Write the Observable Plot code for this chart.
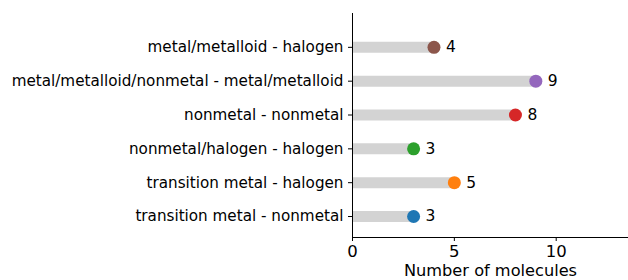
<!DOCTYPE html>
<html><head><meta charset="utf-8">
<script src="https://cdn.jsdelivr.net/npm/d3@7"></script>
<script src="https://cdn.jsdelivr.net/npm/@observablehq/plot@0.6"></script>
<style>body{margin:0;background:#fff;} svg{display:block;}</style>
</head><body><div id="chart"></div>
<script>
const categories = [
  "transition metal - nonmetal",
  "transition metal - halogen",
  "nonmetal/halogen - halogen",
  "nonmetal - nonmetal",
  "metal/metalloid/nonmetal - metal/metalloid",
  "metal/metalloid - halogen"
];
const counts = [3, 5, 3, 8, 9, 4];
const colors = ["#1f77b4", "#ff7f0e", "#2ca02c", "#d62728", "#9467bd", "#8c564b"];
const xTicks = [0, 5, 10];
const xDomain = [0, 13.55];
const yDomain = [-0.62, 6.0];

const data = categories.map((c, i) => ({cat: c, idx: i, n: counts[i], color: colors[i]}));

const chart = Plot.plot({
  width: 628, height: 280,
  marginLeft: 352, marginRight: 0, marginTop: 13, marginBottom: 43,
  style: {fontFamily: "DejaVu Sans", background: "#fff", color: "#000"},
  x: {domain: xDomain, ticks: xTicks},
  y: {domain: yDomain},
  marks: [
    Plot.ruleY(data, {y: "idx", x1: 0, x2: "n", stroke: "#d3d3d3", strokeWidth: 11}),
    Plot.dot(data, {x: "n", y: "idx", r: 6.5, fill: "color", stroke: "none"}),
    Plot.text(data, {x: "n", y: "idx", text: d => String(d.n), dx: 12, textAnchor: "start", fontSize: 15.5, fill: "#000"}),
    Plot.ruleX([xDomain[0]], {stroke: "#000", strokeWidth: 1}),
    Plot.ruleY([yDomain[0]], {stroke: "#000", strokeWidth: 1}),
    Plot.axisX({ticks: xTicks, tickSize: 4, tickPadding: 4, fontSize: 16.5, label: null, stroke: "#000"}),
    Plot.text(["Number of molecules"], {frameAnchor: "bottom", dy: 38, fontSize: 16.2, fill: "#000"}),
    Plot.axisY({ticks: data.map(d => d.idx), tickFormat: i => categories[i], tickSize: 4, tickPadding: 5, fontSize: 15.2, label: null, stroke: "#000"})
  ]
});
document.getElementById("chart").appendChild(chart);
</script></body></html>
